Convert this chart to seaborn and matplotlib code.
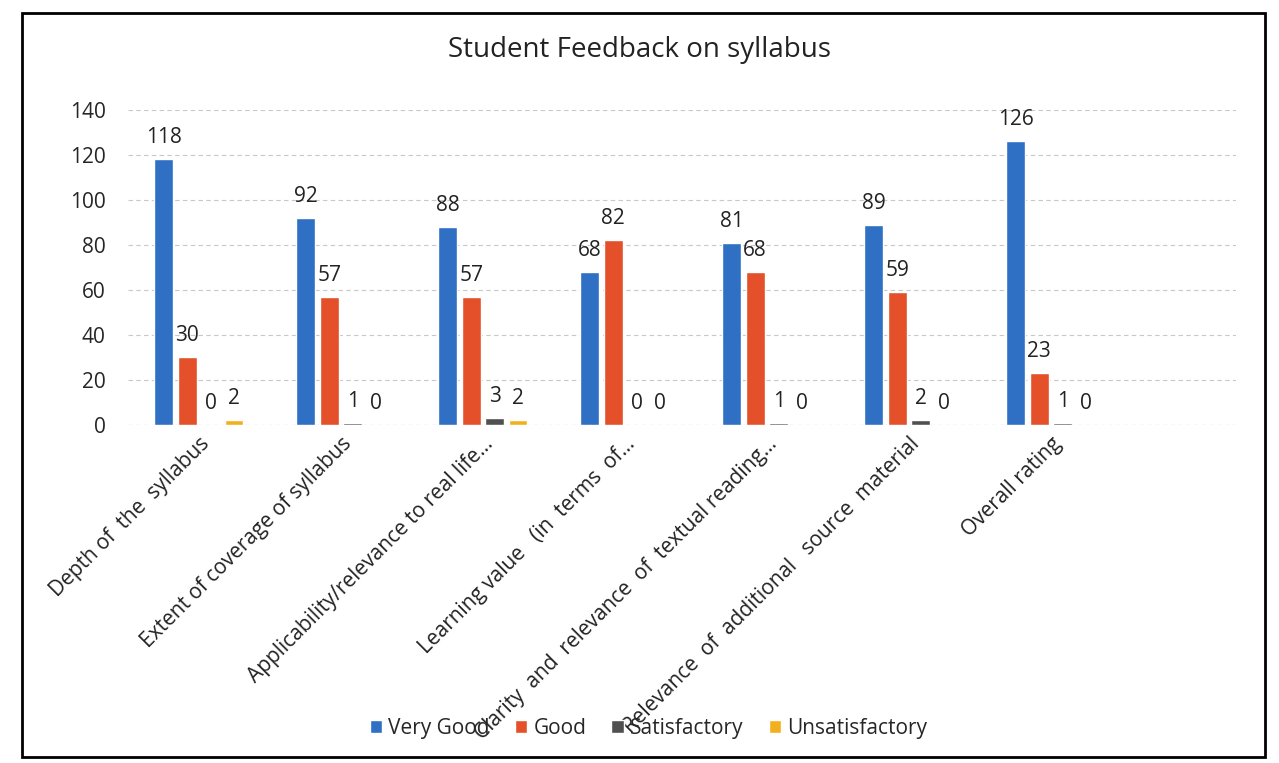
import pandas as pd
import matplotlib.pyplot as plt
import seaborn as sns
from matplotlib.patches import Rectangle

CATEGORIES = [
    "Depth of  the  syllabus",
    "Extent of coverage of syllabus",
    "Applicability/relevance to real life...",
    "Learning value   (in  terms  of...",
    "Clarity  and  relevance  of  textual reading...",
    "Relevance  of  additional   source  material",
    "Overall rating",
]
SERIES = ["Very Good", "Good", "Satisfactory", "Unsatisfactory"]
VERY_GOOD = [118, 92, 88, 68, 81, 89, 126]
GOOD = [30, 57, 57, 82, 68, 59, 23]
SATISFACTORY = [0, 1, 3, 0, 1, 2, 1]
UNSATISFACTORY = [2, 0, 2, 0, 0, 0, 0]
Y_TICKS = [0, 20, 40, 60, 80, 100, 120, 140]

COLORS = ["#2F6FC4", "#E4502A", "#505050", "#F2B01E"]

rows = []
for name, vals in zip(SERIES, [VERY_GOOD, GOOD, SATISFACTORY, UNSATISFACTORY]):
    for cat, v in zip(CATEGORIES, vals):
        rows.append({"category": cat, "rating": name, "count": v})
df = pd.DataFrame(rows)

sns.set_style("white")
plt.rcParams['font.family'] = ['Open Sans', 'DejaVu Sans']

fig = plt.figure(figsize=(12.79, 7.63), dpi=100)
ax = fig.add_axes([0.1, 0.443, 0.866, 0.413])

sns.barplot(data=df, x="category", y="count", hue="rating", hue_order=SERIES,
            order=CATEGORIES, palette=COLORS, width=0.66, gap=0.2,
            saturation=1, ax=ax, legend=True)

for cont in ax.containers:
    ax.bar_label(cont, padding=8, fontsize=15, color="#222222")

ax.set_xlim(-0.5, 7.3)
ax.set_ylim(0, 140)
ax.set_yticks(Y_TICKS)
ax.tick_params(axis="y", labelsize=15, length=0, pad=16)
ax.tick_params(axis="x", length=0, pad=6)
ax.set_xticks(range(len(CATEGORIES)))
ax.set_xticklabels(CATEGORIES, rotation=45, ha="right", rotation_mode="anchor",
                   fontsize=15, color="#222222")
ax.set_xlabel("")
ax.set_ylabel("")
ax.yaxis.grid(True, linestyle=(0, (4, 3)), color="#c8c8c8", linewidth=0.8)
ax.set_axisbelow(True)
for s in ax.spines.values():
    s.set_visible(False)
ax.axhline(0, color="#cccccc", linewidth=0.8, linestyle=(0, (4, 3)))

handles, labels = ax.get_legend_handles_labels()
ax.legend_.remove()
fig.legend(handles, labels, loc="center", bbox_to_anchor=(0.507, 0.045), ncol=4,
           frameon=False, fontsize=15, handlelength=0.6, handleheight=0.6,
           handletextpad=0.3, columnspacing=1.2)

fig.text(0.5, 0.935, "Student Feedback on syllabus", ha="center", va="center",
         fontsize=20, color="#222222")

fig.patches.append(Rectangle((0.017, 0.008), 0.972, 0.975, transform=fig.transFigure,
                             fill=False, edgecolor="black", linewidth=2))

fig.savefig("out.png", dpi=100)
